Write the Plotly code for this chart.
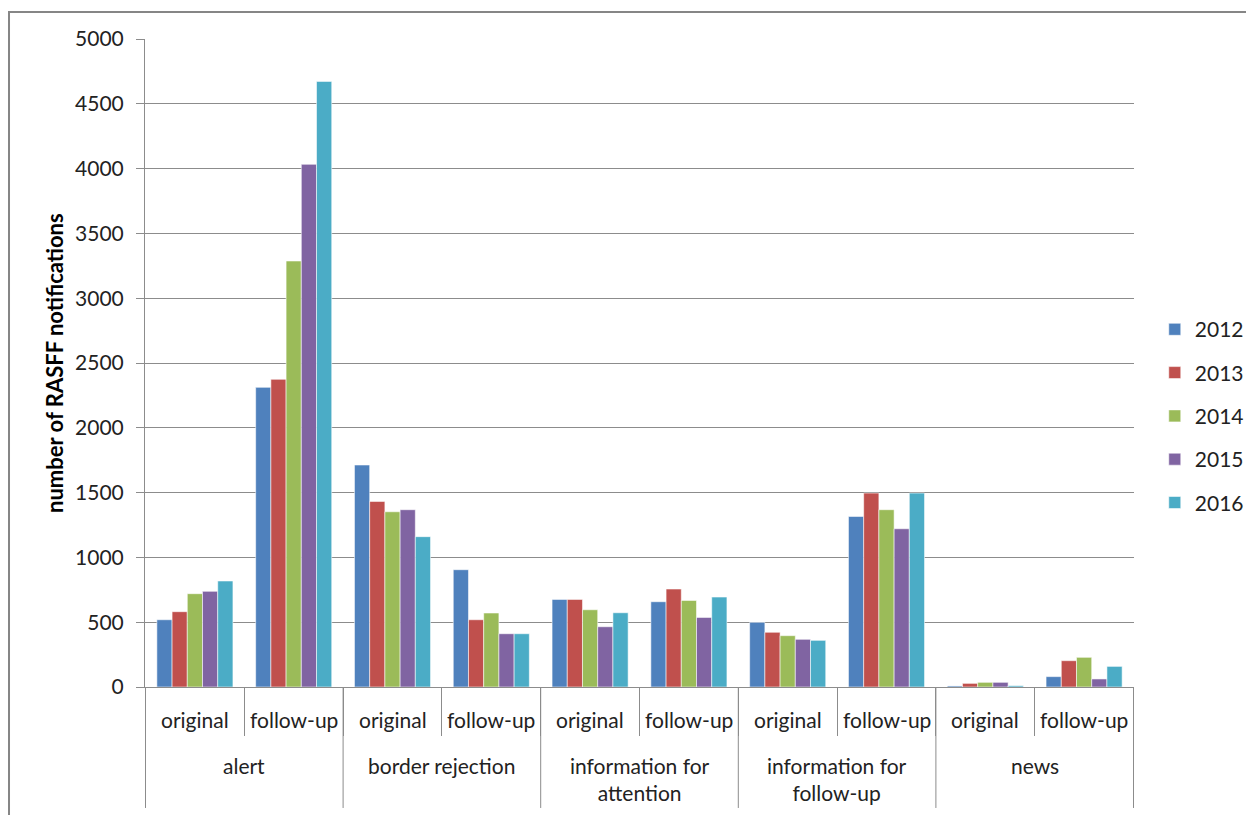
import plotly.graph_objects as go

groups = ["alert", "border rejection", "information for<br>attention", "information for<br>follow-up", "news"]
kinds = ["original", "follow-up"]
years = ["2012", "2013", "2014", "2015", "2016"]
colors = ["#4F81BD", "#C0504D", "#9BBB59", "#8064A2", "#4BACC6"]

# order: alert orig, alert fu, border orig, border fu, info-att orig, info-att fu, info-fu orig, info-fu fu, news orig, news fu
v2012 = [519, 2312, 1713, 905, 676, 658, 499, 1316, 8, 80]
v2013 = [581, 2374, 1432, 519, 676, 756, 422, 1496, 28, 203]
v2014 = [720, 3287, 1352, 571, 596, 668, 396, 1368, 36, 229]
v2015 = [738, 4033, 1368, 411, 465, 537, 368, 1221, 36, 62]
v2016 = [818, 4673, 1160, 411, 573, 694, 360, 1496, 10, 159]
values = [v2012, v2013, v2014, v2015, v2016]

cats = [f"{g}|{k}" for g in groups for k in kinds]

FONT = "Lato, Open Sans, sans-serif"
GRID = "#8c8c8c"

fig = go.Figure()
for i, (yr, vals) in enumerate(zip(years, values)):
    fig.add_trace(go.Bar(
        x=cats, y=vals, name=yr, legendgroup=yr,
        marker=dict(color=colors[i], line=dict(color="rgba(255,255,255,0.55)", width=1)),
    ))

fig.update_layout(
    width=1254, height=815,
    margin=dict(l=137, r=128, t=31, b=136, autoexpand=False),
    paper_bgcolor="white", plot_bgcolor="white",
    barmode="group", bargap=0.23, bargroupgap=0,
    font=dict(family=FONT, size=21, color="#222222"),
    legend=dict(x=1.021, y=0.418, xanchor="left", yanchor="middle",
                traceorder="grouped", tracegroupgap=13,
                font=dict(size=21)),
    showlegend=True,
)
fig.update_xaxes(
    type="category", categoryorder="array", categoryarray=cats,
    showticklabels=False, showline=True, linecolor=GRID, linewidth=1,
    ticks="outside", tickson="boundaries", ticklen=48, tickcolor=GRID, tickwidth=1,
    showgrid=False,
)
fig.update_yaxes(
    range=[0, 5000], dtick=500, showgrid=True, gridcolor=GRID, gridwidth=1,
    showline=True, linecolor=GRID, linewidth=1, ticks="outside", ticklen=8,
    tickcolor=GRID, tickfont=dict(size=21), zeroline=False, ticklabelstandoff=8,
)

# category labels
for gi, g in enumerate(groups):
    for ki, k in enumerate(kinds):
        fig.add_annotation(text=k, x=gi * 2 + ki, xref="x", y=-0.0494, yref="paper",
                           showarrow=False, xanchor="center", yanchor="middle",
                           font=dict(size=21, color="#222222"))
    fig.add_annotation(text=g, x=gi * 2 + 0.5, xref="x", y=-0.0988, yref="paper",
                       showarrow=False, xanchor="center", yanchor="top",
                       font=dict(size=21, color="#222222"))
for gi in range(len(groups) + 1):
    fig.add_shape(type="line", xref="x", yref="paper", x0=gi * 2 - 0.5, x1=gi * 2 - 0.5,
                  y0=0, y1=-0.1867, line=dict(color=GRID, width=1))

fig.add_annotation(
    text="<b>number of RASFF notifications</b>", xref="paper", yref="paper",
    x=-0.092, y=0.5, textangle=-90, showarrow=False, font=dict(size=22, color="#000000"),
    xanchor="center", yanchor="middle",
)
fig.add_shape(type="rect", xref="paper", yref="paper",
              x0=-0.1375, y0=-0.3, x1=1.2, y1=1.0417,
              line=dict(color="#868686", width=2), layer="below")

fig.write_html("out.html")
